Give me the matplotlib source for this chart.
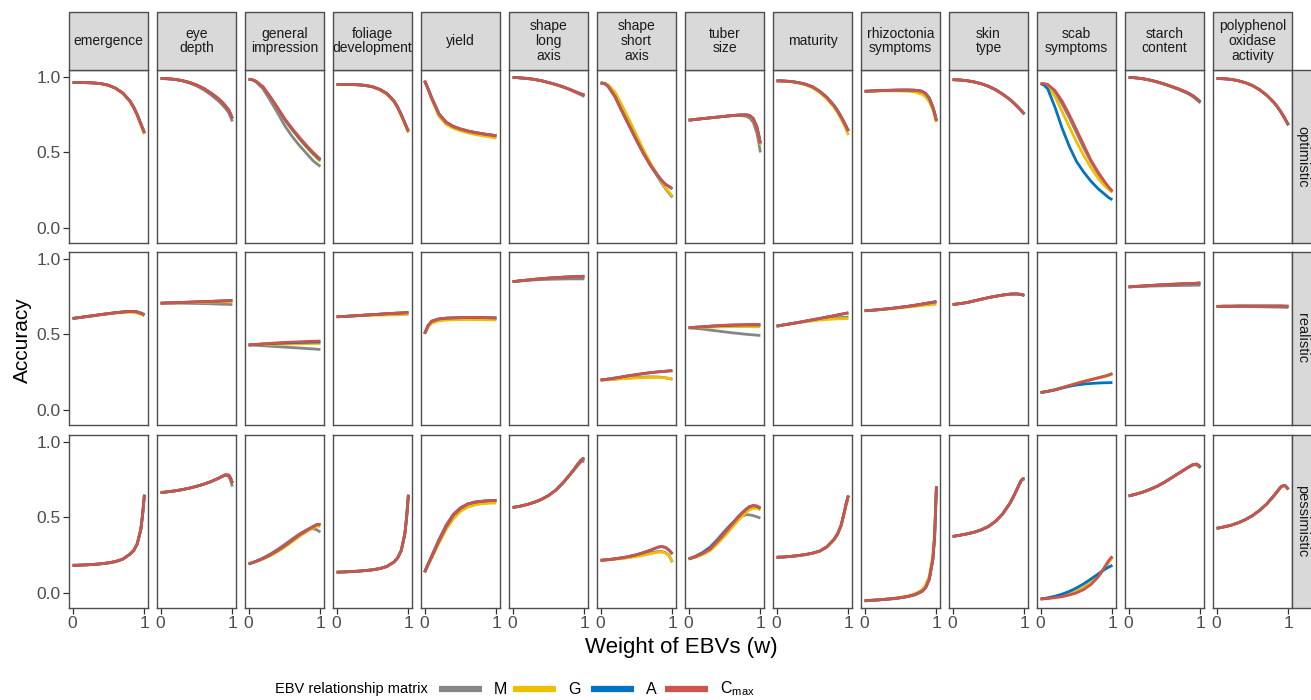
import matplotlib.pyplot as plt
from matplotlib.lines import Line2D
from matplotlib.patches import Rectangle

plt.rcParams['font.family'] = ['Liberation Sans', 'DejaVu Sans']
plt.rcParams['mathtext.fontset'] = 'custom'
plt.rcParams['mathtext.rm'] = 'Liberation Sans'

# weight of EBVs at which the curves were read
w = [0, 0.05, 0.1, 0.2, 0.3, 0.4, 0.5, 0.6, 0.7, 0.8, 0.85, 0.9, 0.95, 0.975, 1.0]

traits = ['emergence', 'eye depth', 'general impression', 'foliage development', 'yield',
          'shape long axis', 'shape short axis', 'tuber size', 'maturity',
          'rhizoctonia symptoms', 'skin type', 'scab symptoms', 'starch content',
          'polyphenol oxidase activity']
trait_labels = ['emergence', 'eye\ndepth', 'general\nimpression', 'foliage\ndevelopment', 'yield',
                'shape\nlong\naxis', 'shape\nshort\naxis', 'tuber\nsize', 'maturity',
                'rhizoctonia\nsymptoms', 'skin\ntype', 'scab\nsymptoms', 'starch\ncontent',
                'polyphenol\noxidase\nactivity']
scenarios = ['optimistic', 'realistic', 'pessimistic']
matrices = ['M', 'G', 'A', 'Cmax']
colors = {'M': '#868686', 'G': '#EFC000', 'A': '#0073C2', 'Cmax': '#CD534C'}

# ---- optimistic ----
opt_cmax = {
    'emergence': [0.963, 0.963, 0.963, 0.962, 0.960, 0.955, 0.945, 0.925, 0.893, 0.840, 0.800, 0.750, 0.690, 0.660, 0.630],
    'eye depth': [0.989, 0.989, 0.988, 0.984, 0.976, 0.964, 0.947, 0.924, 0.894, 0.858, 0.836, 0.810, 0.780, 0.753, 0.725],
    'general impression': [0.985, 0.982, 0.972, 0.935, 0.870, 0.800, 0.725, 0.663, 0.604, 0.550, 0.525, 0.500, 0.477, 0.466, 0.455],
    'foliage development': [0.950, 0.950, 0.950, 0.950, 0.948, 0.944, 0.935, 0.918, 0.890, 0.840, 0.800, 0.750, 0.695, 0.667, 0.640],
    'yield': [0.975, 0.920, 0.860, 0.755, 0.700, 0.672, 0.655, 0.642, 0.632, 0.624, 0.620, 0.617, 0.614, 0.612, 0.610],
    'shape long axis': [0.997, 0.996, 0.994, 0.990, 0.984, 0.975, 0.963, 0.950, 0.935, 0.917, 0.907, 0.897, 0.888, 0.884, 0.880],
    'shape short axis': [0.960, 0.957, 0.940, 0.870, 0.770, 0.675, 0.580, 0.490, 0.410, 0.345, 0.315, 0.290, 0.275, 0.267, 0.260],
    'tuber size': [0.714, 0.716, 0.719, 0.724, 0.729, 0.734, 0.739, 0.744, 0.748, 0.749, 0.745, 0.725, 0.670, 0.620, 0.560],
    'maturity': [0.974, 0.974, 0.973, 0.970, 0.963, 0.952, 0.935, 0.905, 0.865, 0.810, 0.775, 0.735, 0.690, 0.666, 0.642],
    'rhizoctonia symptoms': [0.905, 0.906, 0.907, 0.909, 0.911, 0.912, 0.913, 0.913, 0.912, 0.905, 0.890, 0.860, 0.800, 0.760, 0.710],
    'skin type': [0.982, 0.981, 0.980, 0.975, 0.967, 0.955, 0.938, 0.915, 0.885, 0.850, 0.828, 0.805, 0.780, 0.767, 0.754],
    'scab symptoms': [0.956, 0.955, 0.950, 0.910, 0.840, 0.750, 0.650, 0.550, 0.450, 0.370, 0.335, 0.300, 0.270, 0.256, 0.242],
    'starch content': [0.996, 0.996, 0.994, 0.988, 0.979, 0.967, 0.953, 0.937, 0.920, 0.900, 0.888, 0.874, 0.855, 0.845, 0.835],
    'polyphenol oxidase activity': [0.989, 0.989, 0.988, 0.984, 0.975, 0.962, 0.943, 0.915, 0.878, 0.830, 0.800, 0.765, 0.725, 0.703, 0.681],
}
opt_m = {
    'eye depth': [0.989, 0.989, 0.988, 0.983, 0.974, 0.960, 0.941, 0.915, 0.882, 0.843, 0.820, 0.794, 0.762, 0.735, 0.705],
    'general impression': [0.985, 0.981, 0.968, 0.922, 0.845, 0.765, 0.680, 0.610, 0.550, 0.497, 0.470, 0.444, 0.425, 0.416, 0.407],
    'shape long axis': [0.997, 0.996, 0.994, 0.990, 0.984, 0.975, 0.963, 0.950, 0.934, 0.915, 0.904, 0.893, 0.882, 0.876, 0.870],
    'shape short axis': [0.960, 0.958, 0.945, 0.890, 0.795, 0.700, 0.600, 0.500, 0.410, 0.335, 0.297, 0.262, 0.232, 0.217, 0.203],
    'tuber size': [0.714, 0.716, 0.719, 0.724, 0.729, 0.734, 0.739, 0.743, 0.745, 0.740, 0.728, 0.700, 0.630, 0.570, 0.500],
    'scab symptoms': [0.956, 0.954, 0.948, 0.900, 0.820, 0.730, 0.630, 0.530, 0.440, 0.360, 0.327, 0.295, 0.265, 0.252, 0.240],
    'starch content': [0.996, 0.996, 0.994, 0.988, 0.979, 0.966, 0.951, 0.934, 0.916, 0.895, 0.883, 0.868, 0.848, 0.838, 0.828],
}
opt_g = {
    'emergence': [0.963, 0.963, 0.963, 0.962, 0.960, 0.955, 0.944, 0.923, 0.890, 0.836, 0.795, 0.744, 0.683, 0.651, 0.620],
    'general impression': [0.985, 0.982, 0.971, 0.932, 0.865, 0.793, 0.717, 0.653, 0.593, 0.537, 0.511, 0.487, 0.463, 0.451, 0.440],
    'foliage development': [0.950, 0.950, 0.950, 0.950, 0.948, 0.943, 0.933, 0.915, 0.886, 0.835, 0.794, 0.743, 0.687, 0.658, 0.630],
    'yield': [0.975, 0.915, 0.850, 0.740, 0.686, 0.660, 0.643, 0.630, 0.619, 0.611, 0.607, 0.603, 0.599, 0.597, 0.595],
    'shape short axis': [0.960, 0.958, 0.950, 0.900, 0.810, 0.715, 0.615, 0.515, 0.425, 0.345, 0.305, 0.270, 0.240, 0.225, 0.210],
    'tuber size': [0.714, 0.716, 0.719, 0.724, 0.729, 0.734, 0.739, 0.744, 0.748, 0.748, 0.743, 0.720, 0.665, 0.610, 0.550],
    'maturity': [0.974, 0.974, 0.972, 0.968, 0.960, 0.948, 0.928, 0.897, 0.855, 0.800, 0.763, 0.720, 0.672, 0.644, 0.615],
    'rhizoctonia symptoms': [0.905, 0.905, 0.906, 0.907, 0.908, 0.908, 0.907, 0.905, 0.900, 0.885, 0.868, 0.838, 0.782, 0.745, 0.700],
    'scab symptoms': [0.956, 0.953, 0.940, 0.870, 0.770, 0.670, 0.570, 0.480, 0.400, 0.330, 0.300, 0.275, 0.255, 0.245, 0.235],
}
opt_a = {
    'general impression': [0.985, 0.982, 0.972, 0.934, 0.868, 0.797, 0.721, 0.658, 0.599, 0.544, 0.519, 0.494, 0.471, 0.460, 0.450],
    'scab symptoms': [0.956, 0.945, 0.920, 0.800, 0.660, 0.540, 0.440, 0.370, 0.310, 0.260, 0.240, 0.220, 0.200, 0.193, 0.187],
}

# ---- realistic ----
real_cmax = {
    'emergence': [0.606, 0.609, 0.612, 0.619, 0.625, 0.632, 0.638, 0.644, 0.649, 0.652, 0.652, 0.649, 0.641, 0.636, 0.630],
    'eye depth': [0.707, 0.708, 0.709, 0.710, 0.712, 0.714, 0.716, 0.717, 0.719, 0.721, 0.722, 0.723, 0.724, 0.724, 0.725],
    'general impression': [0.430, 0.432, 0.434, 0.438, 0.441, 0.444, 0.447, 0.449, 0.451, 0.453, 0.454, 0.455, 0.455, 0.456, 0.456],
    'foliage development': [0.617, 0.618, 0.619, 0.622, 0.625, 0.628, 0.631, 0.634, 0.637, 0.640, 0.641, 0.642, 0.643, 0.644, 0.644],
    'yield': [0.505, 0.560, 0.588, 0.603, 0.608, 0.610, 0.611, 0.612, 0.612, 0.612, 0.611, 0.611, 0.610, 0.610, 0.610],
    'shape long axis': [0.850, 0.852, 0.855, 0.860, 0.865, 0.869, 0.873, 0.876, 0.879, 0.881, 0.882, 0.883, 0.884, 0.885, 0.885],
    'shape short axis': [0.198, 0.201, 0.204, 0.211, 0.219, 0.227, 0.234, 0.241, 0.247, 0.252, 0.254, 0.256, 0.258, 0.259, 0.260],
    'tuber size': [0.544, 0.546, 0.548, 0.551, 0.555, 0.558, 0.561, 0.563, 0.564, 0.565, 0.566, 0.566, 0.566, 0.566, 0.566],
    'maturity': [0.555, 0.559, 0.563, 0.571, 0.579, 0.588, 0.597, 0.606, 0.615, 0.624, 0.629, 0.634, 0.638, 0.641, 0.643],
    'rhizoctonia symptoms': [0.657, 0.658, 0.660, 0.664, 0.669, 0.674, 0.680, 0.686, 0.693, 0.701, 0.705, 0.709, 0.713, 0.715, 0.717],
    'skin type': [0.698, 0.701, 0.704, 0.711, 0.722, 0.733, 0.744, 0.753, 0.761, 0.767, 0.768, 0.768, 0.765, 0.762, 0.758],
    'scab symptoms': [0.115, 0.119, 0.123, 0.133, 0.147, 0.161, 0.175, 0.188, 0.200, 0.212, 0.218, 0.224, 0.231, 0.236, 0.240],
    'starch content': [0.815, 0.816, 0.818, 0.821, 0.824, 0.827, 0.830, 0.832, 0.834, 0.836, 0.837, 0.838, 0.839, 0.840, 0.841],
    'polyphenol oxidase activity': [0.686, 0.686, 0.687, 0.687, 0.688, 0.688, 0.688, 0.688, 0.688, 0.688, 0.688, 0.688, 0.687, 0.687, 0.687],
}
real_m = {
    'eye depth': [0.707, 0.707, 0.707, 0.707, 0.707, 0.706, 0.705, 0.704, 0.703, 0.701, 0.700, 0.700, 0.699, 0.698, 0.698],
    'general impression': [0.430, 0.429, 0.428, 0.425, 0.422, 0.419, 0.416, 0.413, 0.410, 0.407, 0.405, 0.404, 0.402, 0.401, 0.400],
    'yield': [0.505, 0.555, 0.580, 0.597, 0.602, 0.604, 0.605, 0.605, 0.605, 0.605, 0.605, 0.604, 0.604, 0.604, 0.604],
    'shape long axis': [0.850, 0.852, 0.854, 0.858, 0.861, 0.863, 0.865, 0.866, 0.867, 0.868, 0.868, 0.868, 0.868, 0.868, 0.868],
    'shape short axis': [0.198, 0.199, 0.201, 0.204, 0.208, 0.212, 0.215, 0.218, 0.219, 0.218, 0.216, 0.213, 0.209, 0.206, 0.203],
    'tuber size': [0.544, 0.542, 0.540, 0.535, 0.529, 0.523, 0.517, 0.511, 0.506, 0.501, 0.499, 0.497, 0.495, 0.494, 0.493],
    'maturity': [0.555, 0.559, 0.563, 0.571, 0.579, 0.587, 0.594, 0.600, 0.605, 0.609, 0.611, 0.612, 0.613, 0.614, 0.615],
    'starch content': [0.815, 0.816, 0.817, 0.818, 0.820, 0.821, 0.822, 0.823, 0.824, 0.825, 0.825, 0.826, 0.826, 0.826, 0.826],
    'polyphenol oxidase activity': [0.686, 0.686, 0.686, 0.685, 0.685, 0.684, 0.684, 0.683, 0.682, 0.681, 0.681, 0.680, 0.680, 0.679, 0.679],
}
real_g = {
    'emergence': [0.606, 0.609, 0.612, 0.618, 0.624, 0.630, 0.636, 0.641, 0.645, 0.647, 0.646, 0.642, 0.634, 0.628, 0.622],
    'eye depth': [0.707, 0.707, 0.708, 0.709, 0.710, 0.711, 0.712, 0.713, 0.714, 0.715, 0.715, 0.716, 0.716, 0.716, 0.716],
    'general impression': [0.430, 0.431, 0.432, 0.433, 0.434, 0.435, 0.436, 0.437, 0.438, 0.439, 0.439, 0.440, 0.440, 0.440, 0.440],
    'foliage development': [0.617, 0.618, 0.619, 0.621, 0.623, 0.625, 0.627, 0.628, 0.629, 0.630, 0.631, 0.631, 0.632, 0.632, 0.632],
    'yield': [0.505, 0.550, 0.575, 0.590, 0.595, 0.597, 0.598, 0.598, 0.598, 0.598, 0.597, 0.597, 0.596, 0.596, 0.596],
    'shape short axis': [0.198, 0.199, 0.200, 0.203, 0.206, 0.209, 0.212, 0.214, 0.215, 0.215, 0.214, 0.212, 0.209, 0.207, 0.205],
    'tuber size': [0.544, 0.545, 0.545, 0.547, 0.549, 0.550, 0.551, 0.552, 0.552, 0.552, 0.552, 0.551, 0.551, 0.550, 0.550],
    'maturity': [0.555, 0.559, 0.563, 0.570, 0.577, 0.584, 0.590, 0.595, 0.599, 0.602, 0.603, 0.604, 0.605, 0.605, 0.605],
    'rhizoctonia symptoms': [0.657, 0.658, 0.659, 0.663, 0.667, 0.671, 0.676, 0.681, 0.686, 0.691, 0.694, 0.696, 0.698, 0.699, 0.700],
}
real_a = {
    'general impression': [0.430, 0.432, 0.433, 0.436, 0.439, 0.441, 0.443, 0.445, 0.447, 0.448, 0.449, 0.449, 0.450, 0.450, 0.450],
    'tuber size': [0.544, 0.546, 0.548, 0.551, 0.554, 0.557, 0.559, 0.561, 0.562, 0.563, 0.563, 0.563, 0.563, 0.563, 0.563],
    'scab symptoms': [0.115, 0.119, 0.123, 0.133, 0.145, 0.156, 0.165, 0.171, 0.175, 0.178, 0.179, 0.180, 0.180, 0.181, 0.181],
}

# ---- pessimistic ----
pess_cmax = {
    'emergence': [0.183, 0.183, 0.184, 0.186, 0.189, 0.193, 0.199, 0.208, 0.224, 0.257, 0.280, 0.325, 0.420, 0.520, 0.650],
    'eye depth': [0.665, 0.667, 0.670, 0.676, 0.684, 0.694, 0.706, 0.720, 0.737, 0.758, 0.770, 0.782, 0.780, 0.760, 0.727],
    'general impression': [0.192, 0.200, 0.208, 0.228, 0.252, 0.280, 0.312, 0.347, 0.383, 0.412, 0.427, 0.440, 0.452, 0.455, 0.450],
    'foliage development': [0.137, 0.138, 0.139, 0.141, 0.144, 0.148, 0.153, 0.161, 0.175, 0.205, 0.232, 0.280, 0.390, 0.500, 0.650],
    'yield': [0.137, 0.190, 0.240, 0.345, 0.440, 0.515, 0.560, 0.588, 0.601, 0.607, 0.609, 0.611, 0.612, 0.612, 0.612],
    'shape long axis': [0.566, 0.570, 0.574, 0.585, 0.600, 0.619, 0.645, 0.680, 0.728, 0.785, 0.815, 0.848, 0.878, 0.888, 0.890],
    'shape short axis': [0.216, 0.218, 0.220, 0.226, 0.233, 0.242, 0.253, 0.267, 0.284, 0.303, 0.307, 0.302, 0.285, 0.272, 0.258],
    'tuber size': [0.225, 0.232, 0.240, 0.262, 0.290, 0.340, 0.395, 0.452, 0.507, 0.553, 0.571, 0.579, 0.576, 0.570, 0.562],
    'maturity': [0.236, 0.237, 0.238, 0.242, 0.247, 0.254, 0.263, 0.277, 0.305, 0.355, 0.392, 0.450, 0.550, 0.605, 0.645],
    'rhizoctonia symptoms': [-0.052, -0.051, -0.049, -0.046, -0.042, -0.038, -0.032, -0.024, -0.012, 0.010, 0.035, 0.090, 0.220, 0.370, 0.705],
    'skin type': [0.374, 0.378, 0.382, 0.391, 0.402, 0.418, 0.440, 0.475, 0.525, 0.595, 0.640, 0.690, 0.740, 0.755, 0.755],
    'scab symptoms': [-0.040, -0.039, -0.037, -0.032, -0.025, -0.014, 0.000, 0.022, 0.055, 0.105, 0.140, 0.178, 0.215, 0.230, 0.242],
    'starch content': [0.642, 0.648, 0.654, 0.668, 0.686, 0.707, 0.733, 0.763, 0.793, 0.823, 0.838, 0.851, 0.853, 0.845, 0.833],
    'polyphenol oxidase activity': [0.428, 0.432, 0.437, 0.448, 0.464, 0.485, 0.512, 0.547, 0.590, 0.645, 0.675, 0.705, 0.712, 0.700, 0.686],
}
pess_m = {
    'eye depth': [0.665, 0.667, 0.670, 0.676, 0.684, 0.694, 0.706, 0.720, 0.737, 0.758, 0.769, 0.779, 0.772, 0.745, 0.705],
    'general impression': [0.192, 0.200, 0.209, 0.231, 0.257, 0.287, 0.320, 0.355, 0.388, 0.415, 0.423, 0.425, 0.418, 0.410, 0.403],
    'yield': [0.137, 0.195, 0.248, 0.355, 0.450, 0.522, 0.565, 0.590, 0.602, 0.607, 0.609, 0.610, 0.611, 0.611, 0.611],
    'shape long axis': [0.566, 0.570, 0.574, 0.585, 0.600, 0.619, 0.645, 0.680, 0.727, 0.782, 0.810, 0.840, 0.866, 0.872, 0.870],
    'shape short axis': [0.216, 0.218, 0.220, 0.225, 0.230, 0.237, 0.245, 0.255, 0.266, 0.274, 0.274, 0.268, 0.250, 0.228, 0.203],
    'tuber size': [0.225, 0.234, 0.244, 0.270, 0.305, 0.355, 0.410, 0.460, 0.500, 0.518, 0.517, 0.512, 0.504, 0.500, 0.496],
    'scab symptoms': [-0.040, -0.038, -0.035, -0.027, -0.017, -0.004, 0.012, 0.035, 0.068, 0.110, 0.138, 0.170, 0.205, 0.222, 0.238],
    'starch content': [0.642, 0.648, 0.654, 0.668, 0.686, 0.707, 0.733, 0.763, 0.793, 0.822, 0.836, 0.848, 0.848, 0.838, 0.826],
}
pess_g = {
    'general impression': [0.192, 0.199, 0.206, 0.224, 0.246, 0.272, 0.302, 0.336, 0.372, 0.403, 0.418, 0.431, 0.442, 0.443, 0.440],
    'yield': [0.137, 0.185, 0.232, 0.330, 0.420, 0.490, 0.540, 0.568, 0.583, 0.590, 0.592, 0.594, 0.595, 0.595, 0.595],
    'shape short axis': [0.216, 0.217, 0.219, 0.223, 0.228, 0.234, 0.241, 0.250, 0.260, 0.269, 0.270, 0.265, 0.248, 0.227, 0.205],
    'tuber size': [0.225, 0.231, 0.237, 0.255, 0.280, 0.325, 0.375, 0.430, 0.485, 0.533, 0.552, 0.561, 0.560, 0.556, 0.550],
    'maturity': [0.236, 0.237, 0.238, 0.242, 0.247, 0.254, 0.263, 0.277, 0.303, 0.350, 0.386, 0.445, 0.540, 0.590, 0.617],
    'rhizoctonia symptoms': [-0.052, -0.051, -0.049, -0.046, -0.041, -0.036, -0.029, -0.020, -0.006, 0.020, 0.050, 0.110, 0.250, 0.400, 0.700],
    'scab symptoms': [-0.040, -0.038, -0.035, -0.027, -0.017, -0.004, 0.012, 0.035, 0.068, 0.110, 0.138, 0.170, 0.205, 0.222, 0.238],
}
pess_a = {
    'tuber size': [0.225, 0.233, 0.242, 0.266, 0.298, 0.345, 0.398, 0.455, 0.510, 0.555, 0.572, 0.578, 0.574, 0.568, 0.560],
    'scab symptoms': [-0.040, -0.037, -0.033, -0.022, -0.008, 0.010, 0.033, 0.060, 0.092, 0.125, 0.142, 0.158, 0.171, 0.177, 0.183],
}

data = {
    'optimistic': {'M': opt_m, 'G': opt_g, 'A': opt_a, 'Cmax': opt_cmax},
    'realistic': {'M': real_m, 'G': real_g, 'A': real_a, 'Cmax': real_cmax},
    'pessimistic': {'M': pess_m, 'G': pess_g, 'A': pess_a, 'Cmax': pess_cmax},
}

# ---- layout (pixels of a 1311x700 canvas) ----
W, H = 1311, 700
def fx(px):
    return px / W
def fy(py):
    return 1 - py / H

col_left0, col_step, pan_w = 69, 88, 79
row_tops, pan_h = [70, 252, 435], 173
border = '#4D4D4D'

fig = plt.figure(figsize=(W / 100, H / 100), dpi=100)

for r, scen in enumerate(scenarios):
    for c, trait in enumerate(traits):
        left = col_left0 + col_step * c
        top = row_tops[r]
        ax = fig.add_axes([fx(left), fy(top + pan_h), pan_w / W, pan_h / H])
        for m in matrices:
            vals = data[scen][m].get(trait, data[scen]['Cmax'][trait])
            ax.plot(w, vals, color=colors[m], lw=2.0, solid_capstyle='butt')
        ax.set_xlim(-0.05, 1.05)
        ax.set_ylim(-0.1, 1.046)
        for s in ax.spines.values():
            s.set_color(border)
            s.set_linewidth(1.0)
        ax.set_xticks([0, 1])
        ax.set_yticks([0, 0.5, 1.0])
        ax.tick_params(length=4, width=0.9, color='#333333', labelcolor='#4D4D4D',
                       labelsize=12.5, pad=2)
        if c == 0:
            ax.set_yticklabels(['0.0', '0.5', '1.0'])
        else:
            ax.tick_params(axis='y', left=False, labelleft=False)
        if r == 2:
            ax.set_xticklabels(['0', '1'])
        else:
            ax.tick_params(axis='x', bottom=False, labelbottom=False)

        if r == 0:
            fig.add_artist(Rectangle((fx(left), fy(70)), pan_w / W, 58 / H,
                                     transform=fig.transFigure, facecolor='#D9D9D9',
                                     edgecolor=border, lw=1.0))
            fig.text(fx(left + pan_w / 2), fy(41), trait_labels[c], ha='center',
                     va='center', fontsize=10, color='#1A1A1A', linespacing=1.08)

    # right strip
    fig.add_artist(Rectangle((fx(1292), fy(row_tops[r] + pan_h)), 25 / W, pan_h / H,
                             transform=fig.transFigure, facecolor='#D9D9D9',
                             edgecolor=border, lw=1.0))
    fig.text(fx(1302), fy(row_tops[r] + pan_h / 2), scen, rotation=270, ha='center',
             va='center', fontsize=10.5, color='#1A1A1A')

fig.text(fx(22), fy(340), 'Accuracy', rotation=90, ha='center', va='center', fontsize=15)
fig.text(fx(681), fy(647), 'Weight of EBVs (w)', ha='center', va='center', fontsize=16)

# legend
leg_y = fy(689)
fig.text(fx(428), leg_y, 'EBV relationship matrix', ha='right', va='center', fontsize=10.5)
legend_items = [('M', 439, 'M'), ('G', 513, 'G'), ('A', 591, 'A'), ('Cmax', 665, 'C$_{\\mathrm{max}}$')]
for m, x0, lab in legend_items:
    fig.add_artist(Line2D([fx(x0), fx(x0 + 43)], [leg_y, leg_y], transform=fig.transFigure,
                          color=colors[m], lw=4.5, solid_capstyle='butt'))
    fig.text(fx(x0 + 55), leg_y, lab, ha='left', va='center', fontsize=11.5)

fig.savefig('out.png', dpi=100)
